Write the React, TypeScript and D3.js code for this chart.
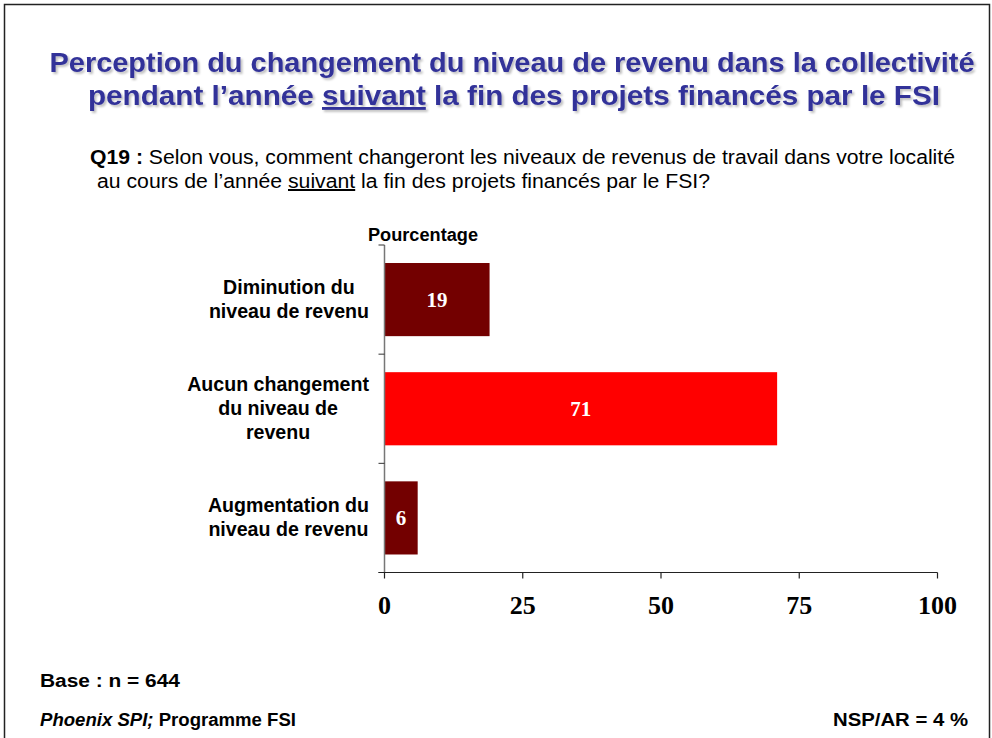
import React from "react";
import * as d3 from "d3";

const categories = [
  "Diminution du niveau de revenu",
  "Aucun changement du niveau de revenu",
  "Augmentation du niveau de revenu",
];
const categoryLines = [
  ["Diminution du", "niveau de revenu"],
  ["Aucun changement", "du niveau de", "revenu"],
  ["Augmentation du", "niveau de revenu"],
];
const values = [19, 71, 6];
const barColors = ["#730000", "#FF0000", "#730000"];
const xTicks = [0, 25, 50, 75, 100];

const SANS = "'Liberation Sans', Arial, sans-serif";
const SERIF = "'Liberation Serif', 'Times New Roman', serif";

function measure(text: string, font: string): number {
  const c = document.createElement("canvas").getContext("2d");
  if (!c) return text.length * 9;
  c.font = font;
  return c.measureText(text).width;
}

export default function App() {
  const W = 992;
  const H = 738;
  const x = d3.scaleLinear().domain([0, 100]).range([384.5, 937.5]);
  const y = d3
    .scaleBand<string>()
    .domain(categories)
    .range([245, 572.5])
    .paddingInner(0.33)
    .paddingOuter(0.165);
  const step = y.step();
  const [r0, r1] = y.range();
  const bandEdges = d3.range(categories.length + 1).map((i) => r0 + i * step);
  const labelSize = 19.6;
  const labelFont = `bold ${labelSize}px ${SANS}`;
  const labelRight = 369;
  const lineH = 24;

  return (
    <svg
      width={W}
      height={H}
      style={{ position: "absolute", left: 0, top: 0, background: "#fff" }}
      fontFamily={SANS}
    >
      <defs>
        <filter id="sh" filterUnits="userSpaceOnUse" x={0} y={20} width={992} height={110}>
          <feDropShadow dx="2" dy="2" stdDeviation="0.8" floodColor="#000" floodOpacity="0.25" />
        </filter>
      </defs>
      <rect x={4.5} y={4.5} width={985} height={760} fill="#fff" stroke="#222" strokeWidth={1.5} />

      {/* Title */}
      <g fill="#333399" fontWeight="bold" fontSize={28.5} textAnchor="middle" filter="url(#sh)">
        <text x={512} y={72} textLength={925} lengthAdjust="spacingAndGlyphs">
          Perception du changement du niveau de revenu dans la collectivité
        </text>
        <text x={514} y={105} textLength={852} lengthAdjust="spacingAndGlyphs">
          pendant l’année <tspan style={{ textDecoration: "underline" }}>suivant</tspan> la fin des projets financés par le FSI
        </text>
      </g>

      {/* Question */}
      <g fill="#000" fontSize={20}>
        <text x={90} y={164} textLength={865} lengthAdjust="spacingAndGlyphs">
          <tspan fontWeight="bold">Q19 :</tspan> Selon vous, comment changeront les niveaux de revenus de travail dans votre localité
        </text>
        <text x={97} y={188} textLength={613} lengthAdjust="spacingAndGlyphs">
          au cours de l’année <tspan style={{ textDecoration: "underline" }}>suivant</tspan> la fin des projets financés par le FSI?
        </text>
      </g>

      <text x={368} y={241} fontWeight="bold" fontSize={18} textLength={110} lengthAdjust="spacingAndGlyphs">
        Pourcentage
      </text>

      {/* Bars */}
      {categories.map((c, i) => (
        <g key={c}>
          <rect
            x={x(0)}
            y={y(c)!}
            width={x(values[i]) - x(0)}
            height={y.bandwidth()}
            fill={barColors[i]}
          />
          <text
            x={(x(0) + x(values[i])) / 2}
            y={y(c)! + y.bandwidth() / 2 + 7}
            textAnchor="middle"
            fill="#fff"
            fontFamily={SERIF}
            fontWeight="bold"
            fontSize={21}
          >
            {values[i]}
          </text>
        </g>
      ))}

      {/* Category labels */}
      {categories.map((c, i) => {
        const lines = categoryLines[i];
        const maxW = Math.max(...lines.map((l) => measure(l, labelFont)));
        const cx = labelRight - maxW / 2;
        const cy = y(c)! + y.bandwidth() / 2;
        const first = cy + 6 - ((lines.length - 1) * lineH) / 2;
        return (
          <text key={c} textAnchor="middle" fontWeight="bold" fontSize={labelSize} fill="#000">
            {lines.map((l, j) => (
              <tspan key={j} x={cx} y={first + j * lineH}>
                {l}
              </tspan>
            ))}
          </text>
        );
      })}

      {/* Y axis */}
      <line x1={x(0)} x2={x(0)} y1={r0} y2={r1} stroke="#777" strokeWidth={1.5} />
      {bandEdges.map((e, i) => (
        <line key={i} x1={x(0) - 6} x2={x(0)} y1={e} y2={e} stroke="#333" strokeWidth={1} />
      ))}

      {/* X axis */}
      <line x1={x(0) - 6} x2={x(100)} y1={r1} y2={r1} stroke="#222" strokeWidth={1.2} />
      {xTicks.map((t) => (
        <g key={t}>
          <line x1={x(t)} x2={x(t)} y1={r1} y2={r1 + 6} stroke="#222" strokeWidth={1.2} />
          <text
            x={x(t)}
            y={614}
            textAnchor="middle"
            fontFamily={SERIF}
            fontWeight="bold"
            fontSize={26}
          >
            {t}
          </text>
        </g>
      ))}

      {/* Footer */}
      <text x={40} y={687} fontWeight="bold" fontSize={18} textLength={140} lengthAdjust="spacingAndGlyphs">
        Base : n = 644
      </text>
      <text x={40} y={726} fontWeight="bold" fontSize={18} textLength={256} lengthAdjust="spacingAndGlyphs">
        <tspan fontStyle="italic">Phoenix SPI;</tspan> Programme FSI
      </text>
      <text x={833} y={726} fontWeight="bold" fontSize={18} textLength={135} lengthAdjust="spacingAndGlyphs">
        NSP/AR = 4 %
      </text>
    </svg>
  );
}
